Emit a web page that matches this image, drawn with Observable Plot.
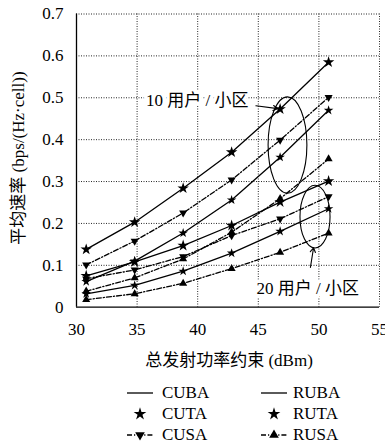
<!DOCTYPE html>
<html><head><meta charset="utf-8">
<script src="https://cdn.jsdelivr.net/npm/d3@7"></script>
<script src="https://cdn.jsdelivr.net/npm/@observablehq/plot@0.6"></script>
<style>
body{margin:0;background:#fff;}
#wrap{position:relative;width:385px;height:446px;overflow:hidden;font-family:"Liberation Serif","DejaVu Serif",serif;}
#wrap svg text{font-family:"Liberation Serif","Noto Sans CJK SC",serif;}
#legend{position:absolute;left:0;top:372px;width:385px;height:74px;}
.li{position:absolute;display:flex;align-items:center;font-size:17px;line-height:1;}
</style>
</head><body><div id="wrap"><div id="legend"></div></div>
<script>
// Power constraint (dBm)
const xs = [30.8, 34.8, 38.8, 42.8, 46.8, 50.8];
// 10 users / cell
const cuba10 = [0.138, 0.203, 0.284, 0.370, 0.473, 0.585];
const cusa10 = [0.101, 0.158, 0.225, 0.304, 0.399, 0.501];
const ruba10 = [0.061, 0.110, 0.177, 0.256, 0.358, 0.470];
const rusa10 = [0.038, 0.070, 0.115, 0.179, 0.259, 0.354];
// 20 users / cell
const cuba20 = [0.075, 0.108, 0.147, 0.195, 0.251, 0.301];
const cusa20 = [0.068, 0.089, 0.121, 0.171, 0.211, 0.264];
const ruba20 = [0.032, 0.052, 0.086, 0.129, 0.181, 0.235];
const rusa20 = [0.018, 0.032, 0.057, 0.092, 0.131, 0.177];

const xTicks = [30, 35, 40, 45, 50, 55];
const yTicks = [0, 0.1, 0.2, 0.3, 0.4, 0.5, 0.6, 0.7];
const legendNames = ["CUBA", "CUTA", "CUSA", "RUBA", "RUTA", "RUSA"];

const seriesList = [
  {id: "CU10-BA", vals: cuba10, kind: "BA", scheme: "CU"},
  {id: "CU10-SA", vals: cusa10, kind: "SA", scheme: "CU"},
  {id: "RU10-BA", vals: ruba10, kind: "BA", scheme: "RU"},
  {id: "RU10-SA", vals: rusa10, kind: "SA", scheme: "RU"},
  {id: "CU20-BA", vals: cuba20, kind: "BA", scheme: "CU"},
  {id: "CU20-SA", vals: cusa20, kind: "SA", scheme: "CU"},
  {id: "RU20-BA", vals: ruba20, kind: "BA", scheme: "RU"},
  {id: "RU20-SA", vals: rusa20, kind: "SA", scheme: "RU"}
];
const rows = seriesList.flatMap(s => s.vals.map((v, i) => ({id: s.id, kind: s.kind, scheme: s.scheme, x: xs[i], y: v})));

// annotations
const labels = [
  {x: 44.2, y: 0.493, text: "10 用户 / 小区"},
  {x: 53.3, y: 0.045, text: "20 用户 / 小区"}
];
const arrows = [
  {x1: 44.8, y1: 0.481, x2: 46.6, y2: 0.474},
  {x1: 49.3, y1: 0.095, x2: 49.56, y2: 0.142}
];
const ellipses = [
  {cx: 47.45, cy: 0.386, rx: 1.6, ry: 0.115},
  {cx: 49.72, cy: 0.215, rx: 1.24, ry: 0.075}
];

const DASH = "5,2,1.2,2";
const serif = '"Liberation Serif", "DejaVu Serif", serif';
const cjk = '"Liberation Serif", "Noto Sans CJK SC", serif';

const ellipseMark = (index, scales) => {
  const g = d3.create("svg:g");
  for (const e of ellipses) {
    const cx = scales.x(e.cx), cy = scales.y(e.cy);
    const rx = Math.abs(scales.x(e.cx + e.rx) - cx);
    const ry = Math.abs(scales.y(e.cy + e.ry) - cy);
    g.append("ellipse").attr("cx", cx).attr("cy", cy).attr("rx", rx).attr("ry", ry)
      .attr("fill", "none").attr("stroke", "black").attr("stroke-width", 1.1);
  }
  return g.node();
};

const marks = [
  Plot.gridX(xTicks.filter(d => d > 30), {stroke: "black", strokeOpacity: 0.85, strokeDasharray: "1,1.5", strokeWidth: 1}),
  Plot.gridY(yTicks.filter(d => d > 0), {stroke: "black", strokeOpacity: 0.85, strokeDasharray: "1,1.5", strokeWidth: 1}),
  Plot.axisX(xTicks, {tickSize: 0, tickPadding: 16, fontSize: 17, label: null}),
  Plot.axisY(yTicks, {tickSize: 0, tickPadding: 13, fontSize: 17, label: null,
    tickFormat: d => d === 0 ? "0" : d.toFixed(1)}),
  Plot.text(labels, {x: "x", y: "y", text: "text", textAnchor: "end", fontSize: 17,
    fill: "black", stroke: "white", strokeWidth: 7}),
  ellipseMark
];
for (const s of seriesList) {
  const data = rows.filter(r => r.id === s.id);
  marks.push(Plot.line(data, {x: "x", y: "y", stroke: "black", strokeWidth: 1.3,
    strokeDasharray: s.kind === "SA" ? DASH : null}));
  if (s.kind === "BA") {
    marks.push(Plot.dot(data, {x: "x", y: "y", symbol: "star", fill: "black", r: s.scheme === "CU" ? 3.6 : 3.0}));
  } else {
    marks.push(Plot.dot(data, {x: "x", y: "y", symbol: "triangle", fill: "black", r: 3.0,
      rotate: s.scheme === "CU" ? 180 : 0}));
  }
}
marks.push(Plot.arrow(arrows, {x1: "x1", y1: "y1", x2: "x2", y2: "y2", stroke: "black", strokeWidth: 1.1, headLength: 7, bend: 0}));
marks.push(Plot.ruleX([30], {stroke: "black", strokeWidth: 1.3}));
marks.push(Plot.ruleY([0], {stroke: "black", strokeWidth: 1.3}));

const chart = Plot.plot({
  width: 385, height: 372,
  marginLeft: 76, marginRight: 6, marginTop: 13.5, marginBottom: 65.3,
  style: {background: "white", fontFamily: serif, overflow: "visible"},
  x: {domain: [30, 55]},
  y: {domain: [0, 0.7]},
  marks
});
const svg = d3.select(chart);
svg.append("text").attr("x", 229).attr("y", 362).attr("text-anchor", "middle").attr("dominant-baseline", "middle")
  .attr("font-size", 17).style("font-family", cjk).attr("fill", "black").text("总发射功率约束 (dBm)");
svg.append("text").attr("transform", "translate(20,158) rotate(-90)").attr("text-anchor", "middle").attr("dominant-baseline", "middle")
  .attr("font-size", 17).style("font-family", cjk).attr("fill", "black").text("平均速率 (bps/(Hz·cell))");
document.getElementById("wrap").prepend(chart);

// legend
const legend = document.getElementById("legend");
const cols = [{sx: 125, tx: 162}, {sx: 259, tx: 293}];
const rowY = [21, 42, 63];
legendNames.forEach((name, i) => {
  const c = cols[Math.floor(i / 3)], r = i % 3;
  const sample = d3.create("svg").attr("width", 30).attr("height", 16)
    .style("position", "absolute").style("left", c.sx + "px").style("top", (rowY[r] - 8) + "px");
  if (r === 0) {
    sample.append("line").attr("x1", 2).attr("x2", 28).attr("y1", 8).attr("y2", 8).attr("stroke", "black").attr("stroke-width", 1.3);
  } else if (r === 1) {
    sample.append("path").attr("d", d3.symbol(d3.symbolStar, 50)()).attr("transform", "translate(15,8)").attr("fill", "black");
  } else {
    sample.append("line").attr("x1", 2).attr("x2", 28).attr("y1", 8).attr("y2", 8).attr("stroke", "black").attr("stroke-width", 1.3).attr("stroke-dasharray", DASH);
    sample.append("path").attr("d", d3.symbol(d3.symbolTriangle, 40)()).attr("transform", "translate(15,8)" + (i < 3 ? " rotate(180)" : "")).attr("fill", "black");
  }
  legend.appendChild(sample.node());
  const t = document.createElement("div");
  t.className = "li";
  t.style.left = c.tx + "px";
  t.style.top = (rowY[r] - 9) + "px";
  t.textContent = name;
  legend.appendChild(t);
});
</script></body></html>
